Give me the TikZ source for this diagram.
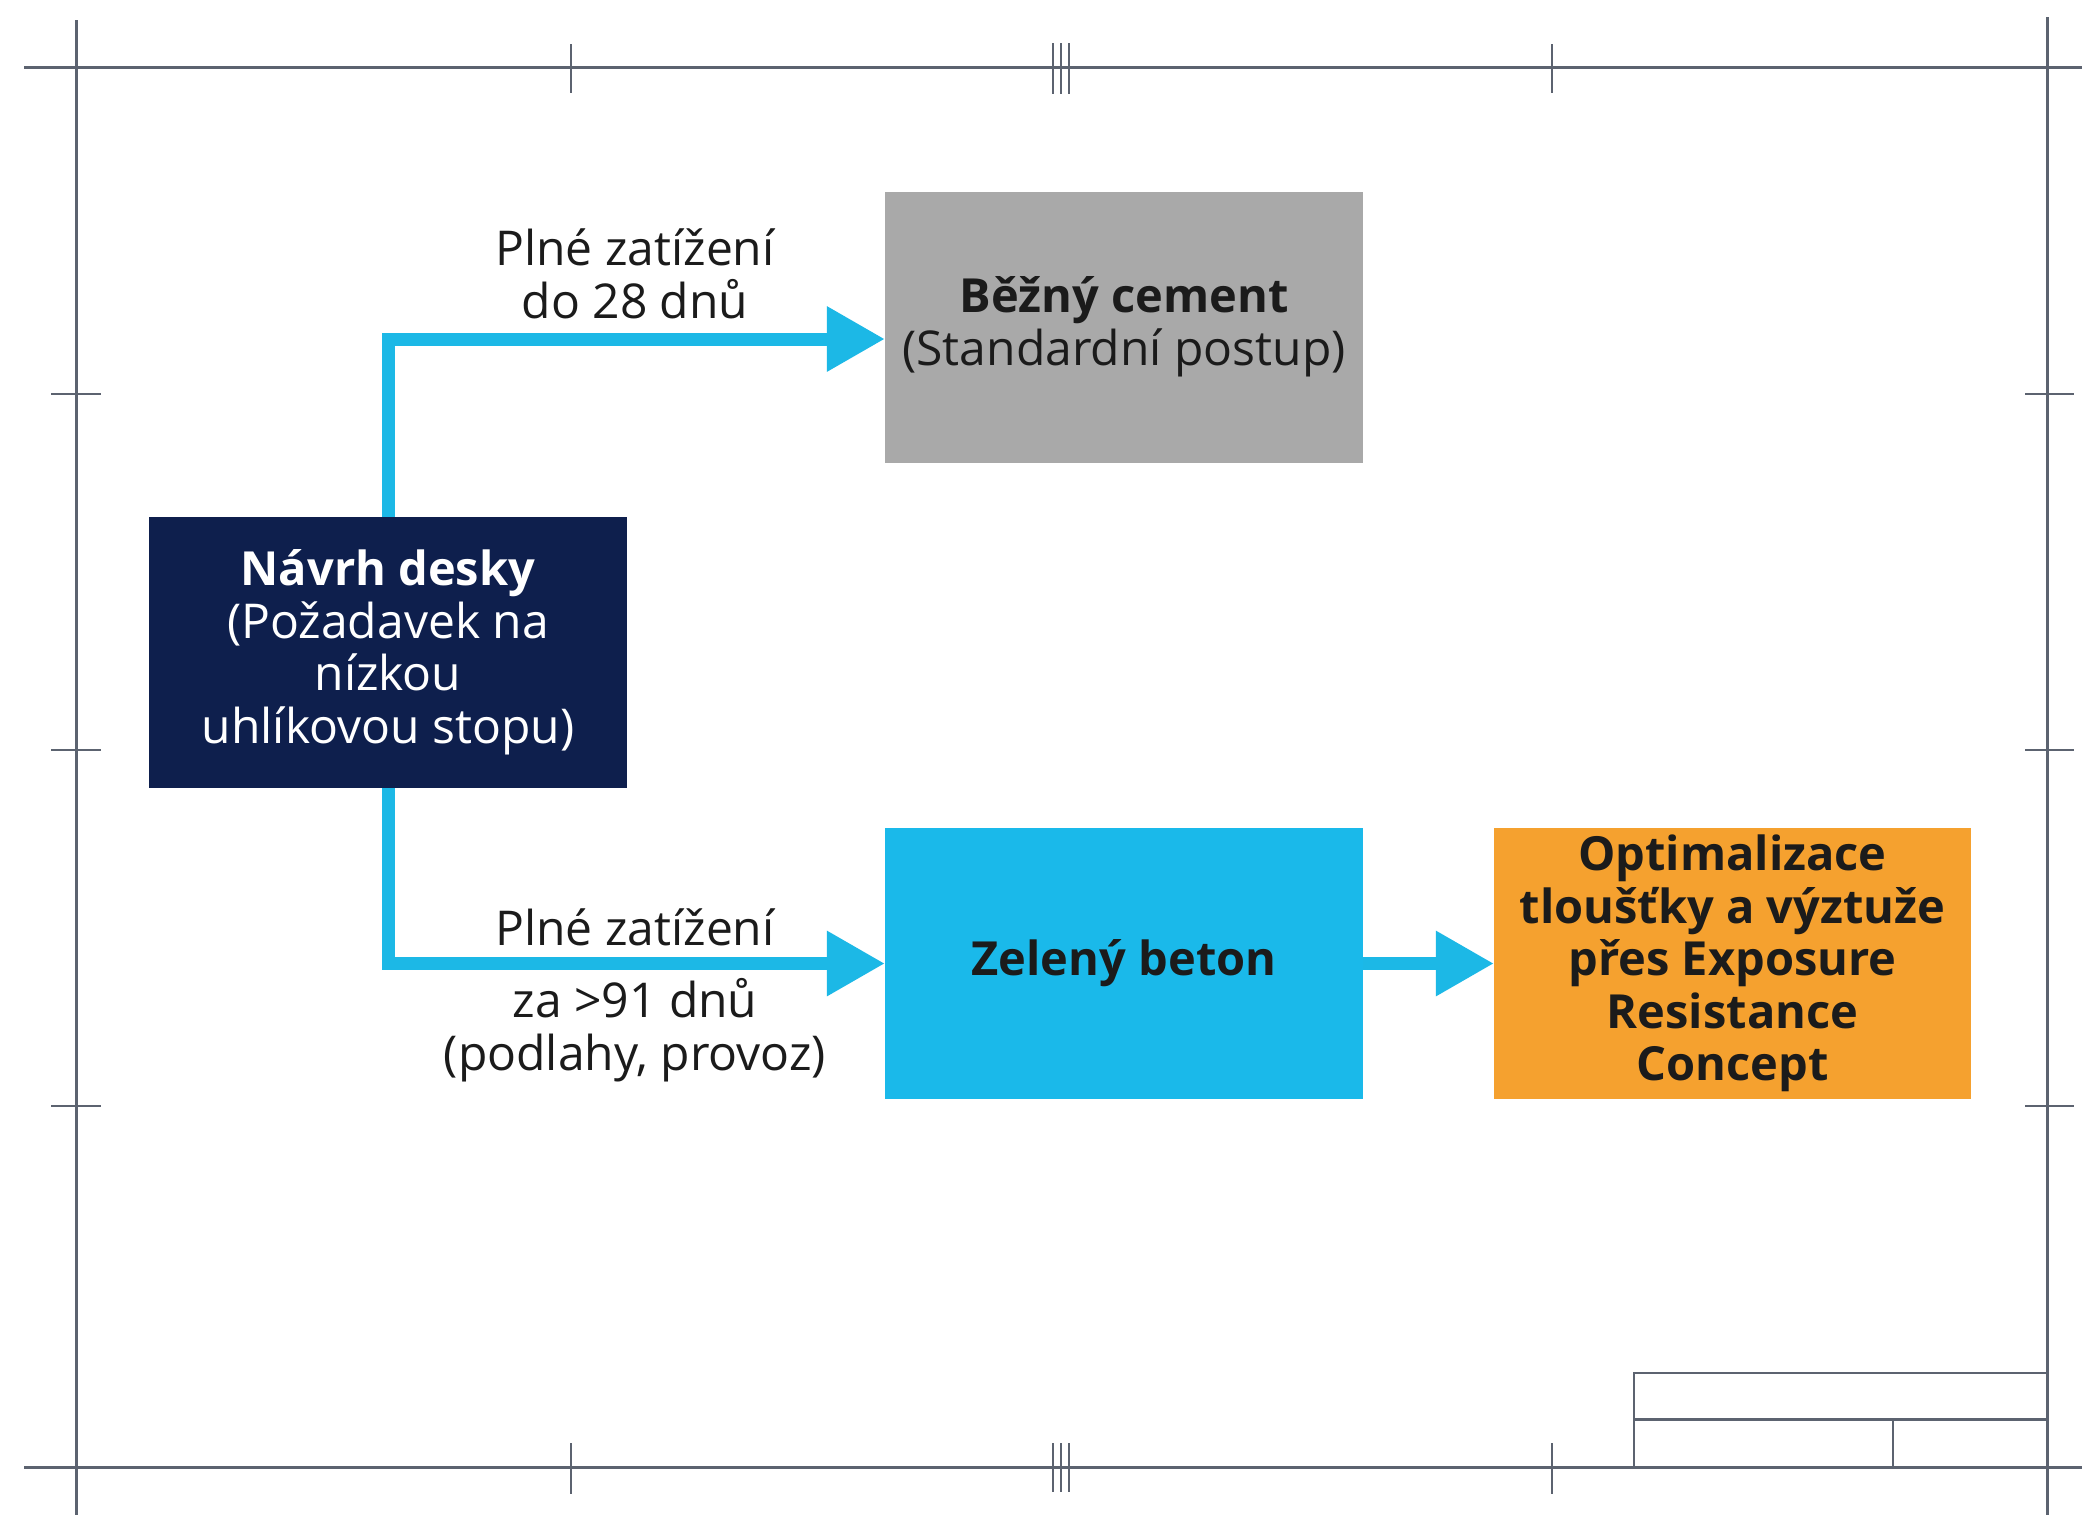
\documentclass[tikz,border=0pt]{standalone}
\usepackage{fontspec}
\setmainfont{Open Sans}
\usetikzlibrary{arrows.meta,calc}
\definecolor{navybox}{HTML}{0E1F4D}
\definecolor{graybox}{HTML}{A9A9A9}
\definecolor{cyanbox}{HTML}{1AB9EA}
\definecolor{cyanarrow}{HTML}{1CB8E6}
\definecolor{orangebox}{HTML}{F5A12F}
\definecolor{framegray}{HTML}{5C6370}
\definecolor{inkdark}{HTML}{1B1B1B}
\begin{document}
\begin{tikzpicture}[x=1pt,y=-1pt,
  frameline/.style={draw=framegray,line width=3pt},
  tickline/.style={draw=framegray,line width=2.5pt},
  txt/.style={font=\fontsize{48}{52.5}\selectfont,align=center,text=inkdark},
  boldtxt/.style={font=\fontsize{47}{52.5}\selectfont\bfseries},
  boxnode/.style={txt,inner sep=0pt,minimum width=478pt,minimum height=271pt},
  conn/.style={draw=cyanarrow,line width=13pt,-{Triangle[length=58pt,width=62pt]}}]
\useasboundingbox (0,0) rectangle (2082,1515);
\fill[white] (0,0) rectangle (2082,1515);
% frame
\draw[frameline] (24,67) -- (2082,67);
\draw[frameline] (24,1467) -- (2082,1467);
\draw[frameline] (76,20) -- (76,1515);
\draw[frameline] (2047,17) -- (2047,1515);
% top / bottom ticks
\foreach \xx in {571,1552}{
  \draw[tickline] (\xx,44) -- (\xx,93);
  \draw[tickline] (\xx,1443) -- (\xx,1494);
}
\foreach \xx in {1053,1061,1069}{
  \draw[tickline] (\xx,43) -- (\xx,94);
  \draw[tickline] (\xx,1443) -- (\xx,1492);
}
% side ticks
\foreach \yy in {394,750,1106}{
  \draw[tickline] (51,\yy) -- (101,\yy);
  \draw[tickline] (2025,\yy) -- (2074,\yy);
}
% title block
\draw[tickline] (1634,1467) -- (1634,1373) -- (2047,1373);
\draw[frameline] (1634,1419) -- (2047,1419);
\draw[tickline] (1893,1419) -- (1893,1467);
% boxes
\node[boxnode,fill=navybox,text=white] (navy) at (388,652.5)
  {{\fontsize{47}{52.5}\selectfont\bfseries Návrh desky}\\(Požadavek na\\nízkou\\uhlíkovou stopu)};
\node[boxnode,fill=graybox] (gray) at (1124,327)
  {{\fontsize{47}{52.5}\selectfont\bfseries Běžný cement}\\(Standardní postup)};
\node[boxnode,fill=cyanbox,boldtxt] (cyan) at (1124,963.5)
  {Zelený beton};
\node[boxnode,fill=orangebox,minimum width=477pt,boldtxt] (orange) at (1732.5,963.5)
  {Optimalizace\\tloušťky a výztuže\\přes Exposure\\Resistance\\Concept};
% connectors
\draw[conn] (navy.north) |- ([yshift=-12pt]gray.west);
\draw[conn] (navy.south) |- (cyan.west);
\draw[conn] (cyan.east) -- (orange.west);
% labels
\node[txt] (lab1) at (635,274) {Plné zatížení\\do 28 dnů};
\node[txt] (lab2) at (635,927) {Plné zatížení};
\node[txt] (lab3) at (635,1030) {za >91 dnů\\(podlahy, provoz)};
\end{tikzpicture}
\end{document}
